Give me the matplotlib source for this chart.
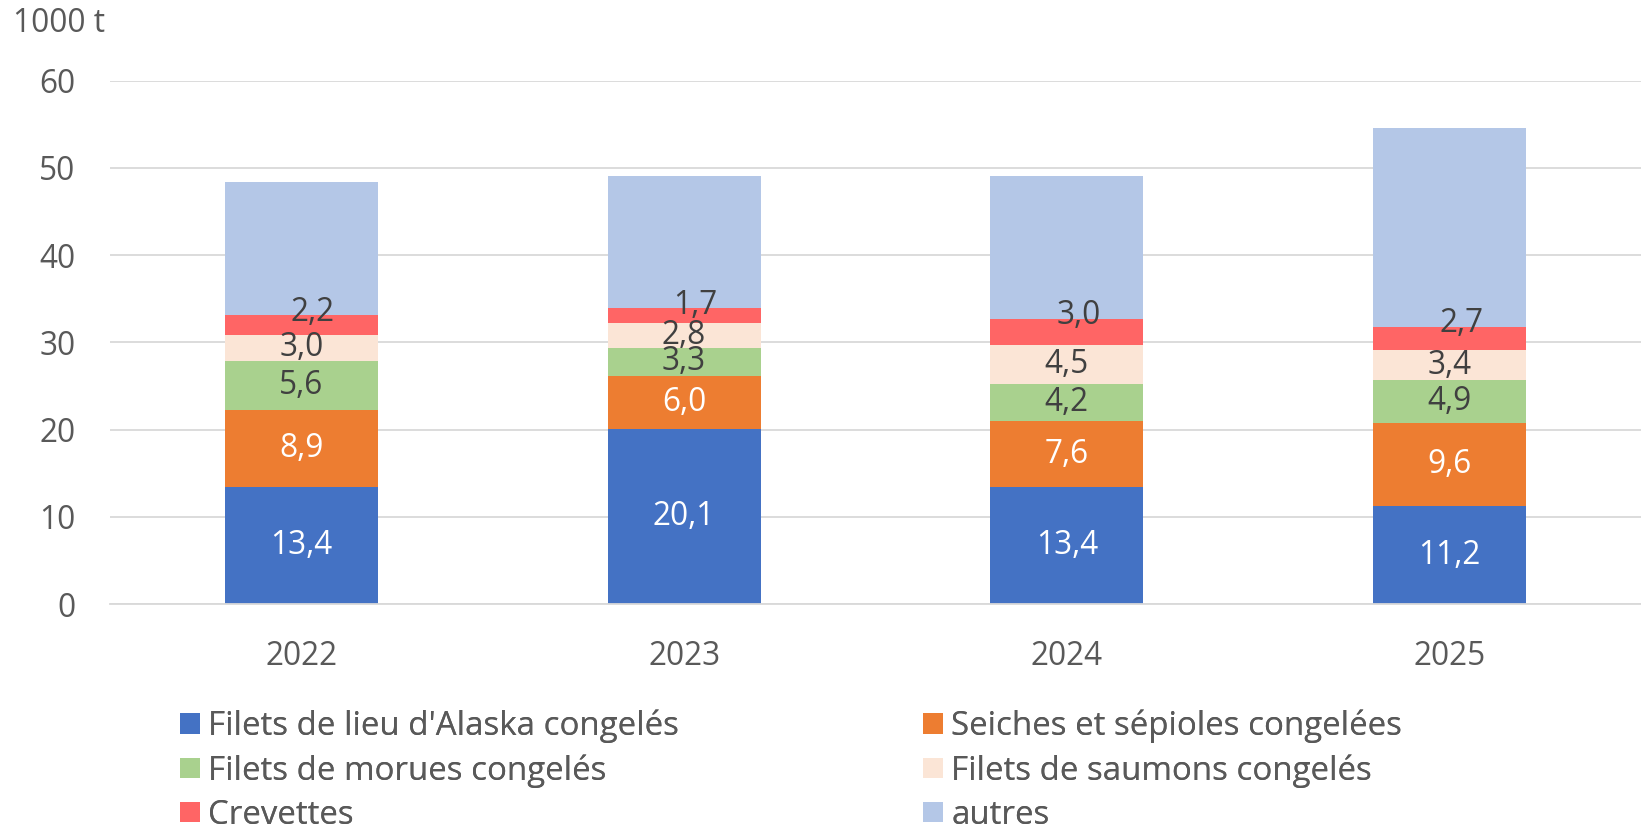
import matplotlib
matplotlib.use("Agg")
import matplotlib.pyplot as plt
from matplotlib.patches import Patch
import numpy as np

plt.rcParams['font.family'] = ['Open Sans', 'DejaVu Sans']

years = ["2022", "2023", "2024", "2025"]
series_names = ["Filets de lieu d'Alaska congelés", "Seiches et sépioles congelées",
                "Filets de morues congelés", "Filets de saumons congelés",
                "Crevettes", "autres"]
lieu = [13.4, 20.1, 13.4, 11.2]
seiches = [8.9, 6.0, 7.6, 9.6]
morues = [5.6, 3.3, 4.2, 4.9]
saumons = [3.0, 2.8, 4.5, 3.4]
crevettes = [2.2, 1.7, 3.0, 2.7]
autres = [15.3, 15.2, 16.4, 22.8]

colors = ["#4472C4", "#ED7D31", "#A9D18E", "#FBE5D6", "#FF6565", "#B4C7E7"]
label_colors = ["white", "white", "#404040", "#404040", "#404040", None]
series = [lieu, seiches, morues, saumons, crevettes, autres]

FS = 22.8

fig = plt.figure(figsize=(16.41, 8.32), dpi=100)
ax = fig.add_axes([0.067, 0.274, 0.933, 0.629])

x = np.arange(len(years))
bottom = np.zeros(len(years))
for i, (vals, col) in enumerate(zip(series, colors)):
    vals = np.array(vals)
    ax.bar(x, vals, 0.4, bottom=bottom, color=col, zorder=2)
    if label_colors[i] is not None:
        for xi, v, b in zip(x, vals, bottom):
            txt = f"{v:.1f}".replace(".", ",")
            if i == 4:
                ax.text(xi + 0.03, b + v + 0.35, txt, ha='center', va='center',
                        color=label_colors[i], fontsize=FS, zorder=3)
            else:
                ax.text(xi, b + v / 2, txt, ha='center', va='center',
                        color=label_colors[i], fontsize=FS, zorder=3)
    bottom += vals

ax.set_xlim(-0.5, 3.5)
ax.set_ylim(0, 60)
ax.set_yticks(range(0, 61, 10))
ax.yaxis.grid(True, color="#D9D9D9", linewidth=1.3, zorder=0)
ax.set_axisbelow(True)
for s in ["top", "right", "left"]:
    ax.spines[s].set_visible(False)
ax.spines["bottom"].set_color("#D9D9D9")
ax.spines["bottom"].set_linewidth(1.3)
ax.set_xticks(x)
ax.set_xticklabels(years)
ax.tick_params(axis='both', length=0, labelsize=FS, colors="#595959")
ax.tick_params(axis='y', pad=25)
ax.tick_params(axis='x', pad=26)

fig.text(0.008, 0.972, "1000 t", fontsize=FS, color="#595959", ha='left', va='center')

cols = [[0, 2, 4], [1, 3, 5]]
xpos = [0.1097, 0.5625]
for c, xp in zip(cols, xpos):
    handles = [Patch(facecolor=colors[k]) for k in c]
    labels = [series_names[k] for k in c]
    leg = fig.legend(handles, labels, ncol=1, loc='upper left', bbox_to_anchor=(xp, 0.147),
                     frameon=False, fontsize=23.8,
                     handlelength=0.6, handleheight=0.57,
                     handletextpad=0.25, labelspacing=0.33,
                     borderpad=0, borderaxespad=0)
    for t in leg.get_texts():
        t.set_color("#595959")
    fig.add_artist(leg)

fig.savefig("out.png", dpi=100)
